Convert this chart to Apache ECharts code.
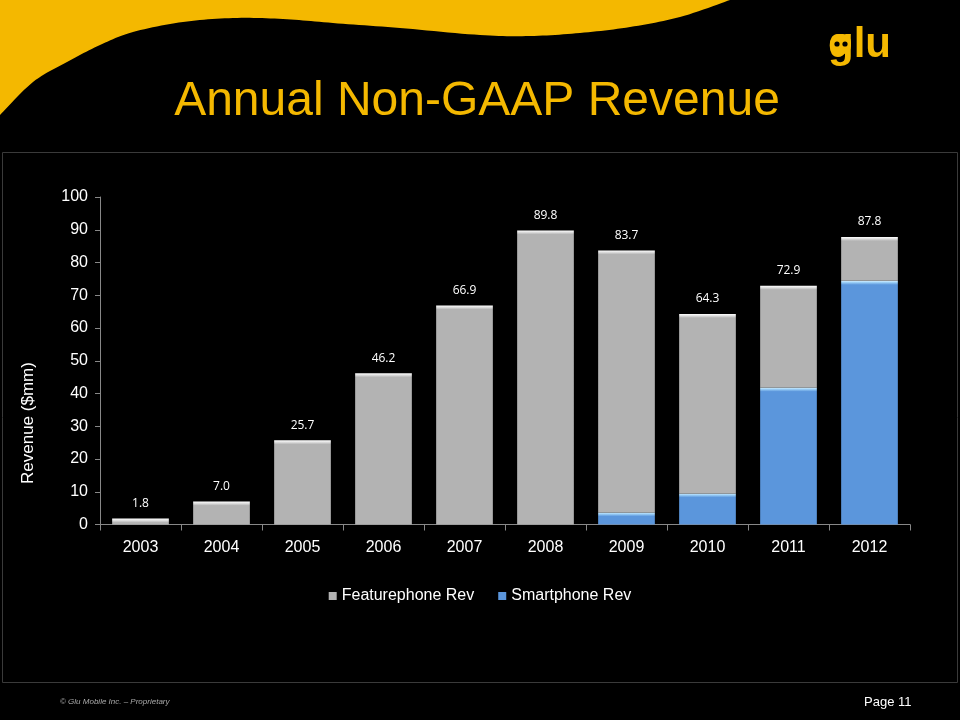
<!DOCTYPE html>
<html>
<head>
<meta charset="utf-8">
<script src="https://cdn.jsdelivr.net/npm/echarts@6/dist/echarts.min.js"></script>
<style>
html,body{margin:0;padding:0;background:#000;}
#c{width:960px;height:720px;}
</style>
</head>
<body>
<div id="c"></div>
<script>
var years = ['2003','2004','2005','2006','2007','2008','2009','2010','2011','2012'];
var featurephone = [1.8, 7.0, 25.7, 46.2, 66.9, 89.8, 80.0, 54.8, 31.1, 13.4];
var smartphone = [0, 0, 0, 0, 0, 0, 3.7, 9.5, 41.8, 74.4];
var totals = [1.8, 7.0, 25.7, 46.2, 66.9, 89.8, 83.7, 64.3, 72.9, 87.8];
var yTicks = [0, 10, 20, 30, 40, 50, 60, 70, 80, 90, 100];

var chart = echarts.init(document.getElementById('c'), null, {renderer: 'canvas'});
var F = 'Liberation Sans, Arial, sans-serif';
var PX_PER_UNIT = 327.5 / 100; // plot height / axis range (style only)

// bevel-like top highlight of ~3px regardless of bar height
function bevel(v, hi, mid, base) {
  var h = Math.max(v * PX_PER_UNIT, 1);
  var a = Math.min(1.5 / h, 0.5), b = Math.min(4 / h, 0.9);
  return {type: 'linear', x: 0, y: 0, x2: 0, y2: 1, colorStops: [
    {offset: 0, color: hi}, {offset: a, color: mid}, {offset: b, color: base}, {offset: 1, color: base}
  ]};
}
function items(vals, hi, mid, base) {
  return vals.map(function (v) {
    return {value: v, itemStyle: {color: bevel(v, hi, mid, base)}};
  });
}

// decorative swoosh: Catmull-Rom through traced boundary points
function swoosh() {
  var p = [[730,0],[680,17],[630,27],[580,33],[530,36],[480,35],[400,28],[333,23],[283,19],
           [233,18],[183,22],[133,32],[100,45],[67,62],[33,82],[0,115]];
  var out = [[0,0]];
  for (var i = 0; i < p.length - 1; i++) {
    var p0 = p[Math.max(i - 1, 0)], p1 = p[i], p2 = p[i + 1], p3 = p[Math.min(i + 2, p.length - 1)];
    for (var k = 0; k < 12; k++) {
      var t = k / 12, t2 = t * t, t3 = t2 * t;
      out.push([0, 1].map(function (d) {
        return 0.5 * ((2 * p1[d]) + (-p0[d] + p2[d]) * t + (2 * p0[d] - 5 * p1[d] + 4 * p2[d] - p3[d]) * t2 +
          (-p0[d] + 3 * p1[d] - 3 * p2[d] + p3[d]) * t3);
      }));
    }
  }
  out.push(p[p.length - 1]);
  return out;
}

chart.setOption({
  backgroundColor: '#000',
  animation: false,
  graphic: [
    {type: 'polygon', z: 0, shape: {points: swoosh()}, style: {fill: '#F4B800'}},
    {type: 'rect', z: 0, shape: {x: 2.5, y: 152.5, width: 955, height: 530}, style: {fill: 'none', stroke: '#3a3a3a', lineWidth: 1}},
    {type: 'text', z: 5, x: 477, y: 102, style: {text: 'Annual Non-GAAP Revenue', fill: '#F4B800', font: '48px ' + F, textAlign: 'center', textVerticalAlign: 'middle'}},
    {type: 'text', z: 5, x: 828, y: 24, style: {text: 'glu', fill: '#F4B800', font: 'bold 42px ' + F}},
    {type: 'rect', z: 6, shape: {x: 831, y: 34, width: 20, height: 20, r: 8}, style: {fill: '#F4B800'}},
    {type: 'circle', z: 7, shape: {cx: 837, cy: 44, r: 2.6}, style: {fill: '#000'}},
    {type: 'circle', z: 7, shape: {cx: 845, cy: 44, r: 2.6}, style: {fill: '#000'}},
    {type: 'text', z: 5, x: 20, y: 484, rotation: Math.PI / 2, style: {text: 'Revenue ($mm)', fill: '#fff', font: '17px ' + F}},
    {type: 'text', z: 5, x: 60, y: 698, style: {text: '© Glu Mobile Inc. – Proprietary', fill: '#aaa', font: 'italic 8px ' + F}},
    {type: 'text', z: 5, x: 864, y: 696, style: {text: 'Page 11', fill: '#fff', font: '13px ' + F}}
  ],
  grid: {left: 100, right: 50, top: 197, bottom: 195.5, containLabel: false},
  legend: {
    data: ['Featurephone Rev', 'Smartphone Rev'],
    left: 'center', top: 583,
    icon: 'rect', itemWidth: 8, itemHeight: 8, itemGap: 24,
    textStyle: {color: '#fff', fontSize: 16, fontFamily: F}
  },
  xAxis: {
    type: 'category', data: years,
    axisLine: {lineStyle: {color: '#888'}},
    axisTick: {show: true, alignWithLabel: false, length: 6, lineStyle: {color: '#888'}},
    axisLabel: {color: '#fff', fontSize: 16, fontFamily: F, margin: 15}
  },
  yAxis: {
    type: 'value', min: 0, max: 100, interval: 10,
    splitLine: {show: false},
    axisLine: {show: true, lineStyle: {color: '#888'}},
    axisTick: {show: true, length: 5, lineStyle: {color: '#888'}},
    axisLabel: {color: '#fff', fontSize: 16, fontFamily: F, margin: 12,
      formatter: function (v) { return yTicks.indexOf(v) >= 0 ? String(v) : ''; }}
  },
  series: [
    {
      name: 'Smartphone Rev', type: 'bar', stack: 'rev', barWidth: '70%',
      data: items(smartphone, '#D6F0FF', '#9FD2F8', '#5B96DC'),
      itemStyle: {color: '#5B96DC'}
    },
    {
      name: 'Featurephone Rev', type: 'bar', stack: 'rev', barWidth: '70%',
      data: items(featurephone, '#FFFFFF', '#E6E6E6', '#B3B3B3'),
      itemStyle: {color: '#B3B3B3'},
      label: {
        show: true, position: 'top', distance: 9, color: '#fff', fontSize: 12,
        fontFamily: 'Open Sans, sans-serif',
        formatter: function (p) { return totals[p.dataIndex].toFixed(1); }
      }
    }
  ]
});
</script>
</body>
</html>
